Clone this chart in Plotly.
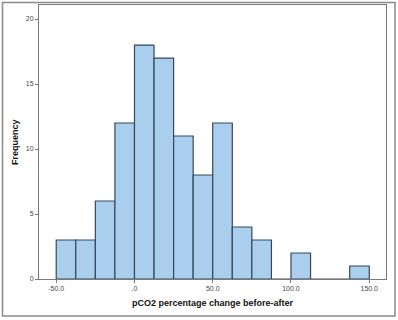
import plotly.graph_objects as go

bin_starts = [-50, -37.5, -25, -12.5, 0, 12.5, 25, 37.5, 50, 62.5, 75, 87.5, 100, 112.5, 125, 137.5]
counts = [3, 3, 6, 12, 18, 17, 11, 8, 12, 4, 3, 0, 2, 0, 0, 1]
bin_width = 12.5
x_tick_vals = [-50, 0, 50, 100, 150]
x_tick_text = ["-50.0", ".0", "50.0", "100.0", "150.0"]
y_tick_vals = [0, 5, 10, 15, 20]

fig = go.Figure()
fig.add_trace(go.Bar(
    x=bin_starts, y=counts, width=bin_width, offset=0,
    marker=dict(color="#aacfee", line=dict(color="#36485a", width=1.2)),
    hoverinfo="x+y",
))

font_family = "Liberation Sans, Arial, sans-serif"
L, R, T, B = 39, 12, 5, 41
W, H = 398, 320
pw, ph = W - L - R, H - T - B

def px(xp):
    return (xp - L) / pw

def py(yp):
    return (H - B - yp) / ph

fig.update_layout(
    width=W, height=H,
    margin=dict(l=L, r=R, t=T, b=B),
    paper_bgcolor="white", plot_bgcolor="white",
    showlegend=False,
    font=dict(family=font_family, size=7, color="#444"),
    xaxis=dict(
        range=[-61, 160.7], tickvals=x_tick_vals, ticktext=x_tick_text,
        showgrid=False, zeroline=False, showline=True, linecolor="#7a7a7a",
        linewidth=1, mirror=True, ticks="outside", ticklen=3, tickcolor="#7a7a7a",
        tickfont=dict(size=7, color="#444"),
    ),
    yaxis=dict(
        range=[0, 21.08], tickvals=y_tick_vals,
        showgrid=False, zeroline=False, showline=True, linecolor="#7a7a7a",
        linewidth=1, mirror=True, ticks="outside", ticklen=3, tickcolor="#7a7a7a",
        tickfont=dict(size=7, color="#444"),
    ),
    shapes=[dict(
        type="rect", xref="paper", yref="paper",
        x0=px(2.5), x1=px(395), y0=py(316), y1=py(2.5),
        line=dict(color="#8a8a8a", width=1.5), fillcolor="rgba(0,0,0,0)",
        layer="below",
    )],
    annotations=[
        dict(text="<b>pCO2 percentage change before-after</b>", xref="paper", yref="paper",
             x=0.5, y=py(303), xanchor="center", yanchor="middle", showarrow=False,
             font=dict(size=9, color="#111", family=font_family)),
        dict(text="<b>Frequency</b>", xref="paper", yref="paper",
             x=px(15), y=0.5, xanchor="center", yanchor="middle", showarrow=False,
             textangle=-90, font=dict(size=9, color="#111", family=font_family)),
    ],
)

fig.write_html("out.html", config={"displayModeBar": False},
               post_script="document.body.style.margin='0';")
